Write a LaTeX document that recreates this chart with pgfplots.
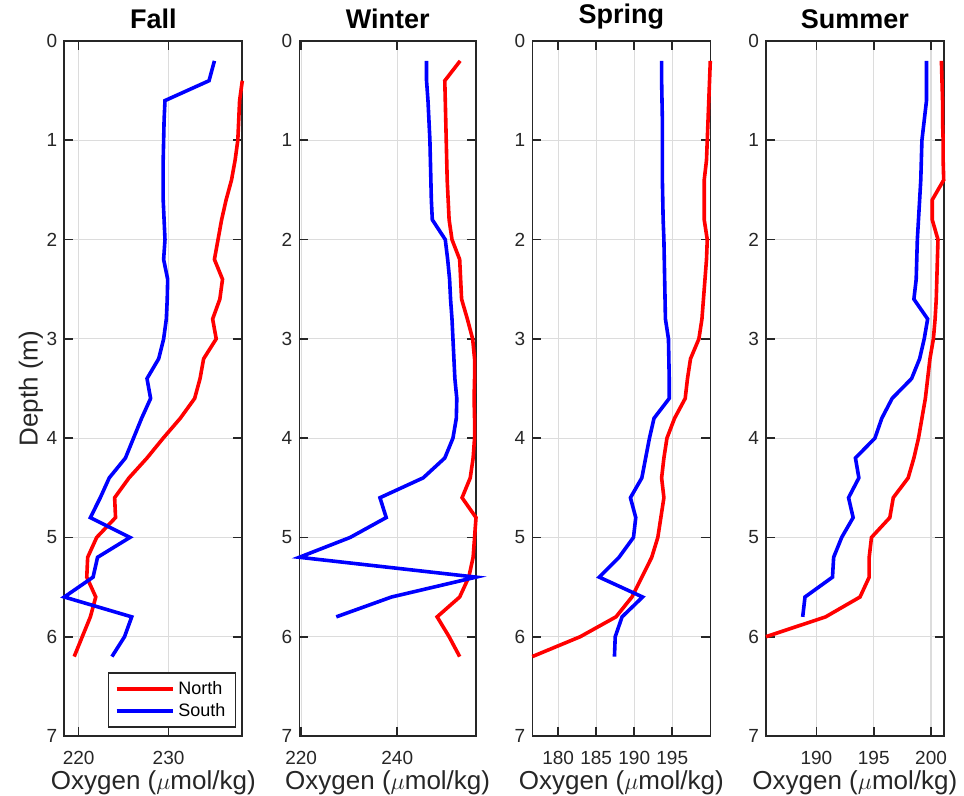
\documentclass[border=0pt]{standalone}
\usepackage{fontspec}
\setmainfont{Liberation Sans}
\usepackage{pgfplots}
\pgfplotsset{compat=1.18}
\definecolor{axgray}{RGB}{38,38,38}
\definecolor{gridgray}{RGB}{220,220,220}
\pgfplotsset{
  panel/.style={
    scale only axis, height=347.5pt,
    y dir=reverse, ymin=0, ymax=7, ytick={0,...,7},
    tick align=inside, tick pos=both, major tick length=4.5pt,
    xmajorgrids, ymajorgrids, grid style={gridgray, line width=0.6pt},
    axis line style={axgray, line width=0.8pt},
    every tick/.style={axgray, line width=0.8pt},
    tick label style={font=\fontsize{9.5}{10}\selectfont, text=axgray},
    xticklabel style={yshift=-4pt},
    /pgf/number format/assume math mode=true,
    xlabel={Oxygen ($\mu$mol/kg)},
    xlabel style={font=\fontsize{13}{14}\selectfont, text=axgray, yshift=4pt},
    title style={font=\bfseries\fontsize{13.5}{15}\selectfont, yshift=-3.5pt},
    clip=false,
    every axis plot/.append style={line width=1.8pt, line join=miter},
  }
}
\begin{document}
\begin{tikzpicture}
% Fall
\begin{axis}[panel, at={(0pt,0pt)}, width=89pt, xmin=218.4, xmax=238.2, xtick={220,230},
  title={Fall}, ylabel={Depth (m)}, ylabel style={font=\fontsize{13}{14}\selectfont, text=axgray, yshift=-5pt},
  legend style={at={(0.965,0.012)}, anchor=south east, draw=axgray, line width=0.6pt,
    font=\fontsize{9}{10}\selectfont, legend cell align=left, row sep=-1pt},
  legend image code/.code={\draw[#1] (0pt,0pt) -- (28pt,0pt);}]
\addplot[red] coordinates {(238.2,0.4)(237.9,0.6)(237.8,0.8)(237.7,1.0)(237.4,1.2)(237.0,1.4)(236.4,1.6)(235.9,1.8)(235.5,2.0)(235.1,2.2)(236.0,2.4)(235.7,2.6)(234.9,2.8)(235.3,3.0)(233.9,3.2)(233.5,3.4)(232.9,3.6)(231.3,3.8)(229.4,4.0)(227.6,4.2)(225.6,4.4)(224.0,4.6)(224.1,4.8)(222.0,5.0)(221.0,5.2)(220.9,5.4)(221.9,5.6)(221.3,5.8)(220.4,6.0)(219.5,6.2)};
\addlegendentry{North}
\addplot[blue] coordinates {(235.1,0.2)(234.5,0.4)(229.6,0.6)(229.5,0.8)(229.45,1.0)(229.4,1.2)(229.4,1.4)(229.4,1.6)(229.5,1.8)(229.6,2.0)(229.45,2.2)(229.9,2.4)(229.85,2.6)(229.75,2.8)(229.45,3.0)(228.9,3.2)(227.6,3.4)(228.0,3.6)(227.0,3.8)(226.1,4.0)(225.2,4.2)(223.4,4.4)(222.4,4.6)(221.3,4.8)(225.7,5.0)(222.1,5.2)(221.6,5.4)(218.4,5.6)(225.9,5.8)(225.1,6.0)(223.7,6.2)};
\addlegendentry{South}
\end{axis}
% Winter
\begin{axis}[panel, at={(117.5pt,0pt)}, width=88.35pt, xmin=219.6, xmax=256.4, xtick={220,240},
  title={Winter}]
\addplot[red] coordinates {(253.1,0.2)(249.9,0.4)(250.0,0.6)(250.1,0.8)(250.2,1.0)(250.3,1.2)(250.4,1.4)(250.6,1.6)(250.8,1.8)(251.4,2.0)(253.0,2.2)(253.2,2.4)(253.4,2.6)(254.6,2.8)(255.7,3.0)(256.1,3.2)(256.1,3.4)(256.0,3.6)(256.1,3.8)(256.1,4.0)(255.8,4.2)(255.2,4.4)(253.5,4.6)(256.4,4.8)(256.1,5.0)(255.8,5.2)(254.9,5.4)(253.0,5.6)(248.3,5.8)(250.8,6.0)(253.0,6.2)};
\addplot[blue] coordinates {(246.1,0.2)(246.1,0.4)(246.4,0.6)(246.6,0.8)(246.8,1.0)(246.9,1.2)(247.0,1.4)(247.1,1.6)(247.3,1.8)(250.0,2.0)(250.5,2.2)(250.9,2.4)(251.1,2.6)(251.4,2.8)(251.6,3.0)(251.8,3.2)(252.0,3.4)(252.4,3.6)(252.3,3.8)(251.6,4.0)(249.9,4.2)(245.4,4.4)(236.4,4.6)(237.7,4.8)(230.2,5.0)(219.6,5.2)(256.4,5.4)(238.8,5.6)(227.3,5.8)};
\end{axis}
% Spring
\begin{axis}[panel, at={(234pt,0pt)}, width=89pt, xmin=176.6, xmax=200.0, xtick={180,185,190,195},
  title={Spring}]
\addplot[red] coordinates {(200.0,0.2)(199.9,0.4)(199.8,0.6)(199.7,0.8)(199.6,1.0)(199.5,1.2)(199.2,1.4)(199.2,1.6)(199.2,1.8)(199.6,2.0)(199.5,2.2)(199.3,2.4)(199.1,2.6)(198.9,2.8)(198.5,3.0)(197.4,3.2)(197.0,3.4)(196.7,3.6)(195.3,3.8)(194.3,4.0)(193.9,4.2)(193.6,4.4)(193.9,4.6)(193.5,4.8)(193.1,5.0)(192.3,5.2)(191.0,5.4)(189.7,5.6)(187.6,5.8)(182.9,6.0)(176.6,6.2)};
\addplot[blue] coordinates {(193.6,0.2)(193.6,0.4)(193.65,0.6)(193.7,0.8)(193.7,1.0)(193.7,1.2)(193.7,1.4)(193.75,1.6)(193.8,1.8)(193.9,2.0)(193.95,2.2)(194.0,2.4)(194.05,2.6)(194.1,2.8)(194.5,3.0)(194.55,3.2)(194.6,3.4)(194.6,3.6)(192.6,3.8)(192.0,4.0)(191.5,4.2)(191.0,4.4)(189.5,4.6)(190.2,4.8)(189.9,5.0)(188.0,5.2)(185.4,5.4)(191.1,5.6)(188.4,5.8)(187.5,6.0)(187.4,6.2)};
\end{axis}
% Summer
\begin{axis}[panel, at={(350.85pt,0pt)}, width=88.85pt, xmin=185.6, xmax=201.1, xtick={190,195,200},
  title={Summer}]
\addplot[red] coordinates {(200.9,0.2)(200.95,0.4)(201.0,0.6)(201.0,0.8)(201.05,1.0)(201.05,1.2)(201.1,1.4)(200.1,1.6)(200.1,1.8)(200.6,2.0)(200.55,2.2)(200.5,2.4)(200.45,2.6)(200.35,2.8)(200.2,3.0)(199.9,3.2)(199.7,3.4)(199.5,3.6)(199.2,3.8)(198.9,4.0)(198.5,4.2)(198.0,4.4)(196.7,4.6)(196.4,4.8)(194.8,5.0)(194.6,5.2)(194.6,5.4)(193.8,5.6)(190.8,5.8)(185.6,6.0)};
\addplot[blue] coordinates {(199.6,0.2)(199.6,0.4)(199.6,0.6)(199.4,0.8)(199.2,1.0)(199.15,1.2)(199.1,1.4)(199.0,1.6)(198.9,1.8)(198.8,2.0)(198.75,2.2)(198.7,2.4)(198.5,2.6)(199.7,2.8)(199.4,3.0)(199.0,3.2)(198.3,3.4)(196.6,3.6)(195.7,3.8)(195.1,4.0)(193.4,4.2)(193.7,4.4)(192.8,4.6)(193.2,4.8)(192.2,5.0)(191.5,5.2)(191.4,5.4)(189.0,5.6)(188.8,5.8)};
\end{axis}
\pgfresetboundingbox
\path (-32.15pt,-30pt) rectangle (449.85pt,368pt);
\end{tikzpicture}
\end{document}
